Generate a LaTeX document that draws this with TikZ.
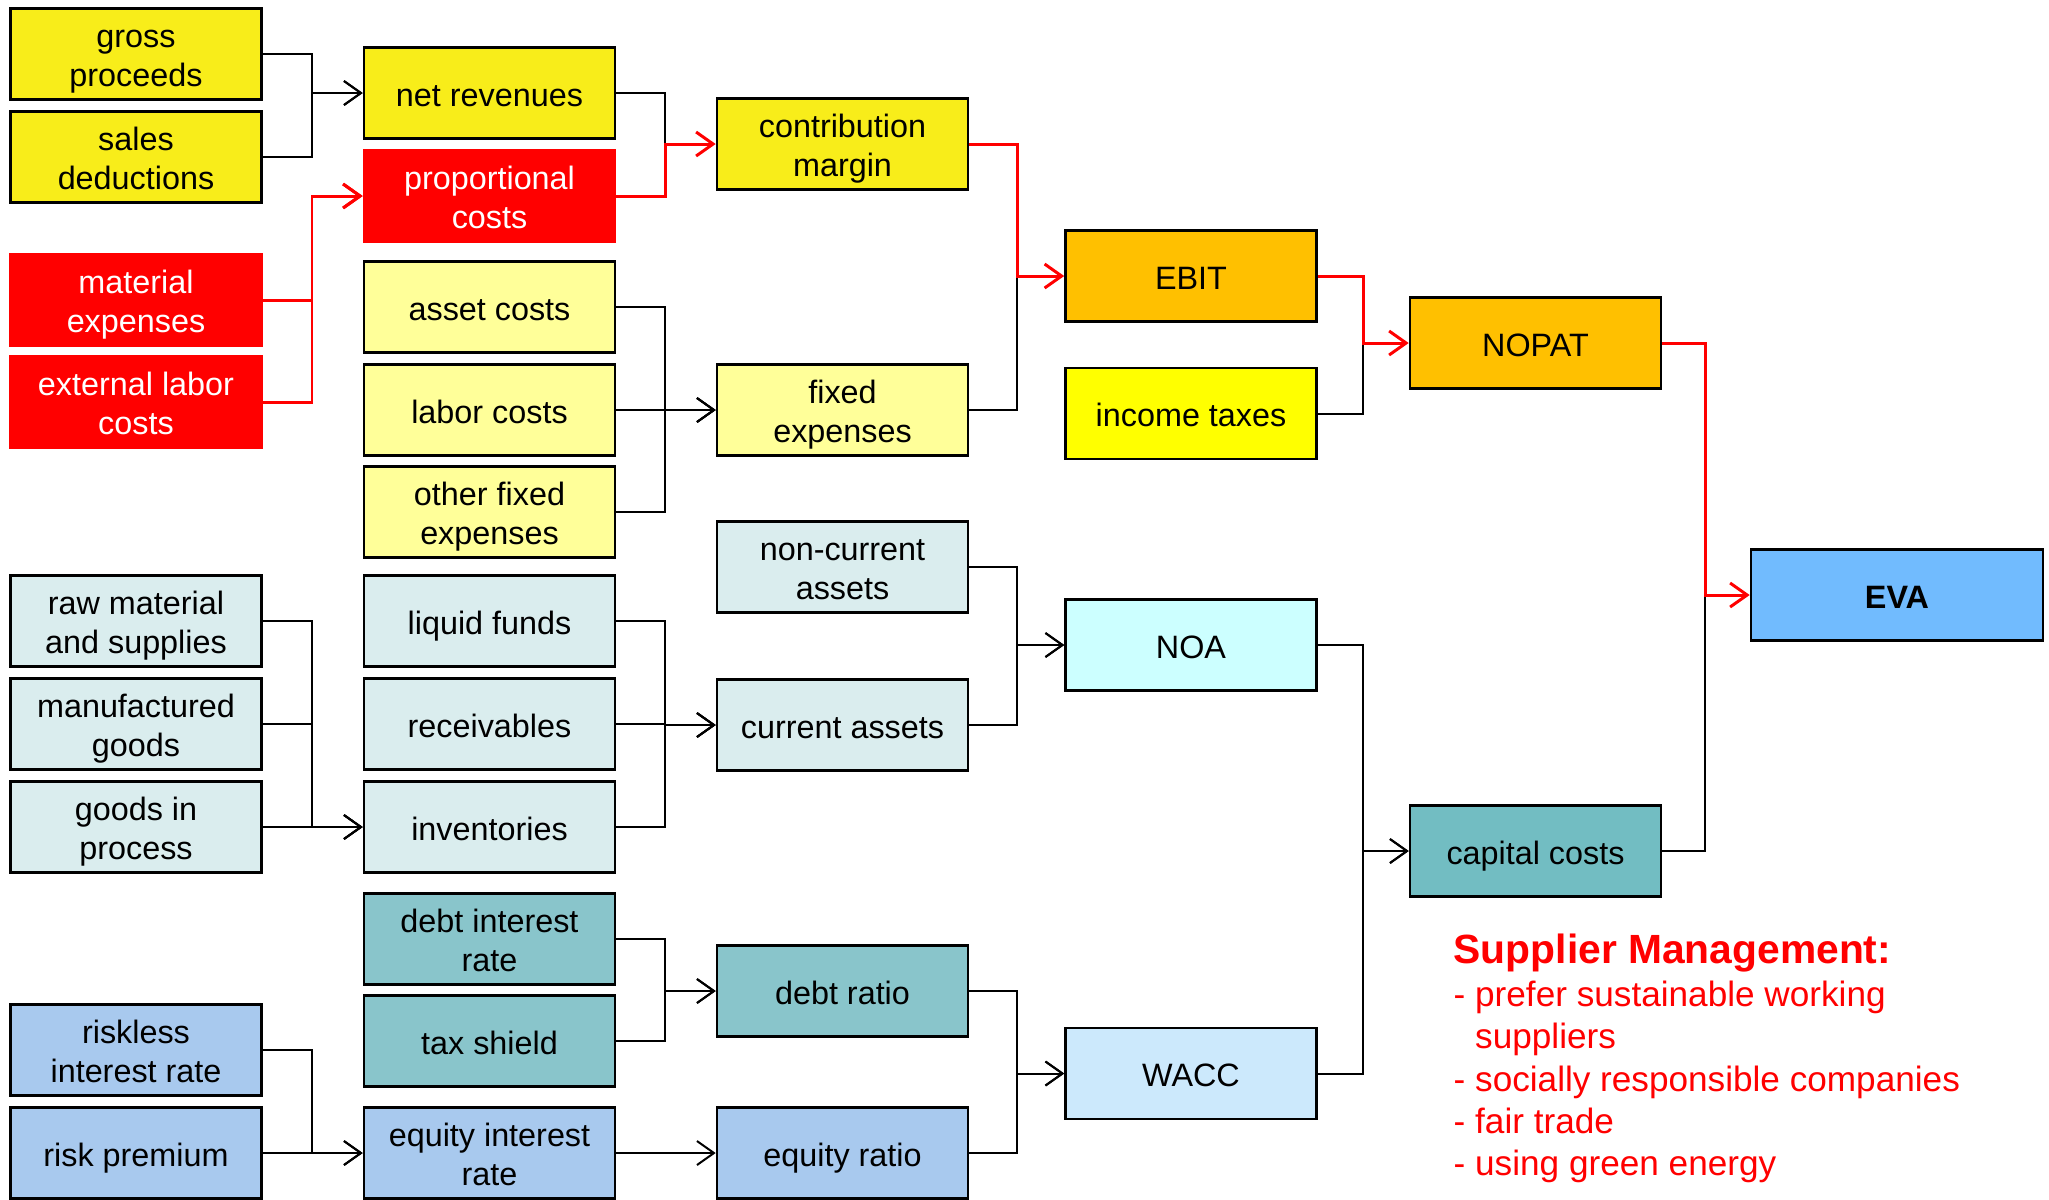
\documentclass[tikz,border=0pt]{standalone}
\usepackage{fontspec}
\setmainfont{Liberation Sans}
\usetikzlibrary{arrows.meta}

% box fills
\definecolor{cYellow}{RGB}{248,237,26}
\definecolor{cRed}{RGB}{255,0,0}
\definecolor{cPaleYellow}{RGB}{255,255,153}
\definecolor{cOrange}{RGB}{255,192,0}
\definecolor{cPureYellow}{RGB}{255,255,0}
\definecolor{cIce}{RGB}{218,237,238}
\definecolor{cCyan}{RGB}{204,255,255}
\definecolor{cSky}{RGB}{204,233,252}
\definecolor{cTeal}{RGB}{137,197,203}
\definecolor{cTealDark}{RGB}{114,189,194}
\definecolor{cBlue}{RGB}{168,201,238}
\definecolor{cEVA}{RGB}{113,187,254}

% box label: lines stacked on struts at a fixed pitch, set slightly low in the box
\newcommand{\boxtext}[1]{\raisebox{-1.5pt}[\height][\depth]{\begin{tabular}{@{}c@{}}#1\end{tabular}}}

\tikzset{
  box/.style={draw=black, line width=0.7pt, minimum width=2.51cm, minimum height=0.91cm,
    inner sep=0pt, font=\fontsize{9.2}{11.1}\selectfont},
  redbox/.style={box, draw=cRed, fill=cRed, text=white},
  bk/.style={draw=black, line width=0.57pt},
  rd/.style={draw=cRed, line width=0.85pt},
  arr/.style={-{Straight Barb[length=0.17cm,width=0.24cm]}},
  notehead/.style={anchor=base west, inner sep=0pt, text=cRed, font=\bfseries\fontsize{11.6}{14}\selectfont},
  noteline/.style={anchor=base west, inner sep=0pt, text=cRed, font=\fontsize{10}{12}\selectfont},
}

\begin{document}
\begin{tikzpicture}[x=0.01cm, y=-0.01cm]
\useasboundingbox (0,0) rectangle (2049,1199);

% column 1
\node[box, fill=cYellow] (gp) at (136,54) {\boxtext{gross\\proceeds}};
\node[box, fill=cYellow] (sd) at (136,157) {\boxtext{sales\\deductions}};
\node[redbox] (me) at (136,300) {\boxtext{material\\expenses}};
\node[redbox] (el) at (136,402) {\boxtext{external labor\\costs}};
\node[box, fill=cIce] (rm) at (136,621) {\boxtext{raw material\\and supplies}};
\node[box, fill=cIce] (mg) at (136,724) {\boxtext{manufactured\\goods}};
\node[box, fill=cIce] (gip) at (136,827) {\boxtext{goods in\\process}};
\node[box, fill=cBlue] (rl) at (136,1050) {\boxtext{riskless\\interest rate}};
\node[box, fill=cBlue] (rp) at (136,1153) {\boxtext{risk premium}};

% column 2
\node[box, fill=cYellow] (nr) at (489.5,93) {\boxtext{net revenues}};
\node[redbox] (pc) at (489.5,196) {\boxtext{proportional\\costs}};
\node[box, fill=cPaleYellow] (ac) at (489.5,307) {\boxtext{asset costs}};
\node[box, fill=cPaleYellow] (lc) at (489.5,410) {\boxtext{labor costs}};
\node[box, fill=cPaleYellow] (of) at (489.5,512) {\boxtext{other fixed\\expenses}};
\node[box, fill=cIce] (lf) at (489.5,621) {\boxtext{liquid funds}};
\node[box, fill=cIce] (rc) at (489.5,724) {\boxtext{receivables}};
\node[box, fill=cIce] (inv) at (489.5,827) {\boxtext{inventories}};
\node[box, fill=cTeal] (di) at (489.5,939) {\boxtext{debt interest\\rate}};
\node[box, fill=cTeal] (ts) at (489.5,1041) {\boxtext{tax shield}};
\node[box, fill=cBlue] (ei) at (489.5,1153) {\boxtext{equity interest\\rate}};

% column 3
\node[box, fill=cYellow] (cm) at (842.5,144) {\boxtext{contribution\\margin}};
\node[box, fill=cPaleYellow] (fe) at (842.5,410) {\boxtext{fixed\\expenses}};
\node[box, fill=cIce] (nca) at (842.5,567) {\boxtext{non-current\\assets}};
\node[box, fill=cIce] (ca) at (842.5,725) {\boxtext{current assets}};
\node[box, fill=cTeal] (dr) at (842.5,991) {\boxtext{debt ratio}};
\node[box, fill=cBlue] (er) at (842.5,1153) {\boxtext{equity ratio}};

% column 4
\node[box, fill=cOrange] (ebit) at (1191,276) {\boxtext{EBIT}};
\node[box, fill=cPureYellow] (it) at (1191,413.5) {\boxtext{income taxes}};
\node[box, fill=cCyan] (noa) at (1191,645) {\boxtext{NOA}};
\node[box, fill=cSky] (wacc) at (1191,1073.5) {\boxtext{WACC}};

% column 5
\node[box, fill=cOrange] (nopat) at (1535.5,343) {\boxtext{NOPAT}};
\node[box, fill=cTealDark] (cc) at (1535.5,851) {\boxtext{capital costs}};

% column 6
\node[box, fill=cEVA, minimum width=2.92cm, font=\bfseries\fontsize{9.2}{11.1}\selectfont] (eva) at (1897,595) {\boxtext{EVA}};

% connectors into column 2
\draw[bk,arr] (gp.east) -| (312,0 |- nr.west) -- (nr.west);
\draw[bk,arr] (sd.east) -| (312,0 |- nr.west) -- (nr.west);
\draw[rd,arr] (me.east) -| (312,0 |- pc.west) -- (pc.west);
\draw[rd,arr] (el.east) -| (312,0 |- pc.west) -- (pc.west);
\draw[bk,arr] (rm.east) -| (312,0 |- inv.west) -- (inv.west);
\draw[bk,arr] (mg.east) -| (312,0 |- inv.west) -- (inv.west);
\draw[bk,arr] (gip.east) -| (312,0 |- inv.west) -- (inv.west);
\draw[bk,arr] (rl.east) -| (312,0 |- ei.west) -- (ei.west);
\draw[bk,arr] (rp.east) -| (312,0 |- ei.west) -- (ei.west);

% connectors into column 3
\draw[bk] (nr.east) -| (665,0 |- cm.west);
\draw[rd,arr] (pc.east) -| (665,0 |- cm.west) -- (cm.west);
\draw[bk,arr] (ac.east) -| (665,0 |- fe.west) -- (fe.west);
\draw[bk,arr] (lc.east) -| (665,0 |- fe.west) -- (fe.west);
\draw[bk,arr] (of.east) -| (665,0 |- fe.west) -- (fe.west);
\draw[bk,arr] (lf.east) -| (665,0 |- ca.west) -- (ca.west);
\draw[bk,arr] (rc.east) -| (665,0 |- ca.west) -- (ca.west);
\draw[bk,arr] (inv.east) -| (665,0 |- ca.west) -- (ca.west);
\draw[bk,arr] (di.east) -| (665,0 |- dr.west) -- (dr.west);
\draw[bk,arr] (ts.east) -| (665,0 |- dr.west) -- (dr.west);
\draw[bk,arr] (ei.east) -- (er.west);

% connectors into column 4
\draw[bk] (fe.east) -| (1017,0 |- ebit.west);
\draw[rd,arr] (cm.east) -| (1017,0 |- ebit.west) -- (ebit.west);
\draw[bk,arr] (nca.east) -| (1017,0 |- noa.west) -- (noa.west);
\draw[bk,arr] (ca.east) -| (1017,0 |- noa.west) -- (noa.west);
\draw[bk,arr] (dr.east) -| (1017,0 |- wacc.west) -- (wacc.west);
\draw[bk,arr] (er.east) -| (1017,0 |- wacc.west) -- (wacc.west);

% connectors into column 5
\draw[bk] (it.east) -| (1363,0 |- nopat.west);
\draw[rd,arr] (ebit.east) -| (1363,0 |- nopat.west) -- (nopat.west);
\draw[bk,arr] (noa.east) -| (1363,0 |- cc.west) -- (cc.west);
\draw[bk,arr] (wacc.east) -| (1363,0 |- cc.west) -- (cc.west);

% connectors into EVA
\draw[bk] (cc.east) -| (1705,0 |- eva.west);
\draw[rd,arr] (nopat.east) -| (1705,0 |- eva.west) -- (eva.west);

% supplier management note
\node[notehead] (sm) at (1453,963) {Supplier Management:};
\node[noteline] (sm1) at (1453,1006) {- prefer sustainable working};
\node[noteline] (sm1b) at (1453,1048) {\phantom{- }suppliers};
\node[noteline] (sm2) at (1453,1091) {- socially responsible companies};
\node[noteline] (sm3) at (1453,1133) {- fair trade};
\node[noteline] (sm4) at (1453,1175) {- using green energy};
\end{tikzpicture}
\end{document}
